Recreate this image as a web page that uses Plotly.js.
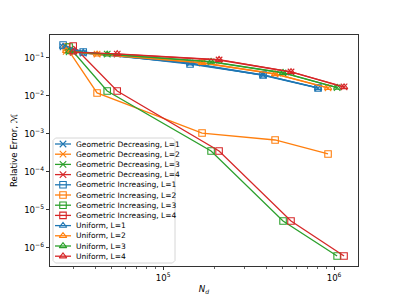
<!DOCTYPE html>
<html><head><meta charset="utf-8">
<script src="https://cdn.plot.ly/plotly-3.0.1.min.js"></script>
<style>html,body{margin:0;padding:0;background:#fff}#plot{width:399px;height:299px}</style>
</head><body><div id="plot"></div>
<script>
// N_d per level count L
const N_L1 = [26000, 34100, 143800, 384500, 806000];
const N_L2 = [27100, 41100, 169000, 452000, 922000];
const N_L3 = [28200, 47100, 190800, 503000, 1042000];
const N_L4 = [29800, 53900, 212500, 560000, 1144000];

const geoDec_L1 = [0.195, 0.135, 0.0738, 0.0357, 0.0163];
const geoDec_L2 = [0.150, 0.127, 0.0738, 0.0379, 0.0163];
const geoDec_L3 = [0.145, 0.127, 0.0785, 0.0403, 0.0165];
const geoDec_L4 = [0.140, 0.127, 0.0886, 0.0428, 0.0173];

const geoInc_L1 = [0.220, 0.144, 0.0695, 0.0357, 0.0163];
const geoInc_L2 = [0.195, 0.0120, 0.00106, 0.000695, 0.000298];
const geoInc_L3 = [0.195, 0.01355, 0.000357, 0.00000514, 0.000000616];
const geoInc_L4 = [0.207, 0.01355, 0.000357, 0.00000514, 0.000000616];

const uni_L1 = [0.200, 0.140, 0.0720, 0.0350, 0.0162];
const uni_L2 = [0.155, 0.125, 0.0750, 0.0380, 0.0164];
const uni_L3 = [0.148, 0.125, 0.0800, 0.0410, 0.0166];
const uni_L4 = [0.142, 0.128, 0.0900, 0.0430, 0.0172];

const seriesNames = [
  'Geometric Decreasing, L=1','Geometric Decreasing, L=2','Geometric Decreasing, L=3','Geometric Decreasing, L=4',
  'Geometric Increasing, L=1','Geometric Increasing, L=2','Geometric Increasing, L=3','Geometric Increasing, L=4',
  'Uniform, L=1','Uniform, L=2','Uniform, L=3','Uniform, L=4'
];
const xTickVals = [1e5, 1e6];
const xTickText = ['10<sup>5</sup>', '10<sup>6</sup>'];
const xMinorVals = [3e4,4e4,5e4,6e4,7e4,8e4,9e4,2e5,3e5,4e5,5e5,6e5,7e5,8e5,9e5];
const yTickVals = [1e-6,1e-5,1e-4,1e-3,1e-2,1e-1];
const yTickText = ['10<sup>−6</sup>','10<sup>−5</sup>','10<sup>−4</sup>','10<sup>−3</sup>','10<sup>−2</sup>','10<sup>−1</sup>'];

const colors = ['#1f77b4','#ff7f0e','#2ca02c','#d62728'];
const Ns = [N_L1, N_L2, N_L3, N_L4];
const groups = [
  {vals:[geoDec_L1,geoDec_L2,geoDec_L3,geoDec_L4], sym:'x-thin-open'},
  {vals:[geoInc_L1,geoInc_L2,geoInc_L3,geoInc_L4], sym:'square-open'},
  {vals:[uni_L1,uni_L2,uni_L3,uni_L4], sym:'triangle-up-open'}
];

const traces = [];
const legendItems = [];
groups.forEach((g, gi) => {
  g.vals.forEach((v, li) => {
    const c = colors[li];
    traces.push({
      x: Ns[li], y: v, type: 'scatter', mode: 'lines+markers',
      name: seriesNames[gi*4+li],
      line: {color: c, width: 1.3},
      marker: {symbol: g.sym, size: 6.5, color: c, line: {color: c, width: 1.1}},
      hoverinfo: 'skip', showlegend: false, xaxis: 'x', yaxis: 'y'
    });
    legendItems.push({name: seriesNames[gi*4+li], color: c, sym: g.sym});
  });
});

// Custom legend drawn on an overlay axis in pixel-like units
const bx0 = 53, bx1 = 175, by0 = 138, by1 = 263, r = 2.5;
const boxX = [bx0+r, bx1-r, bx1, bx1, bx1-r, bx0+r, bx0, bx0, bx0+r];
const boxY = [by0, by0, by0+r, by1-r, by1, by1, by1-r, by0+r, by0];
traces.push({x: boxX, y: boxY, xaxis:'x2', yaxis:'y2', type:'scatter', mode:'lines',
  fill:'toself', fillcolor:'rgba(255,255,255,0.8)', line:{color:'#cccccc', width:0.8},
  hoverinfo:'skip', showlegend:false});
const annotations = [];
legendItems.forEach((it, i) => {
  const yy = 144 + i*10.2;
  traces.push({x:[55,71], y:[yy,yy], xaxis:'x2', yaxis:'y2', type:'scatter', mode:'lines',
    line:{color:it.color, width:1.3}, hoverinfo:'skip', showlegend:false});
  traces.push({x:[63], y:[yy], xaxis:'x2', yaxis:'y2', type:'scatter', mode:'markers',
    marker:{symbol:it.sym, size:6.5, color:it.color, line:{color:it.color, width:1.1}},
    hoverinfo:'skip', showlegend:false});
  annotations.push({x:75, y:yy, xref:'x2', yref:'y2', text:it.name, showarrow:false,
    xanchor:'left', yanchor:'middle', font:{family:'DejaVu Sans', size:7.5, color:'#000'}, borderpad:0});
});

const layout = {
  width: 399, height: 299,
  margin: {l: 50, r: 41, t: 35, b: 33},
  paper_bgcolor: '#fff', plot_bgcolor: '#fff',
  showlegend: false,
  font: {family: 'DejaVu Sans', size: 8.6, color: '#000'},
  xaxis: {
    type: 'log', range: [Math.log10(21800), 6.14],
    tickmode: 'array', tickvals: xTickVals, ticktext: xTickText,
    ticks: 'outside', ticklen: 3.5, tickwidth: 0.8, tickcolor: '#000',
    minor: {tickmode:'array', tickvals: xMinorVals, ticks:'outside', ticklen: 2, tickwidth: 0.6, tickcolor:'#000', showgrid:false},
    showgrid: false, zeroline: false,
    showline: true, linecolor: '#000', linewidth: 0.8, mirror: true,
    title: {text: '<i>N</i><sub><i>d</i></sub>', font: {size: 8.6}, standoff: 4},
    tickfont: {size: 8.6}
  },
  yaxis: {
    type: 'log', range: [-6.474, -0.395],
    tickmode: 'array', tickvals: yTickVals, ticktext: yTickText,
    ticks: 'outside', ticklen: 3.5, tickwidth: 0.8, tickcolor: '#000',
    showgrid: false, zeroline: false,
    showline: true, linecolor: '#000', linewidth: 0.8, mirror: true,
    title: {text: 'Relative Error, ℳ', font: {size: 8.6}, standoff: 5},
    tickfont: {size: 8.6}
  },
  xaxis2: {overlaying: 'x', anchor: 'y2', range: [50, 358], visible: false, fixedrange: true},
  yaxis2: {overlaying: 'y', anchor: 'x2', range: [266, 35], visible: false, fixedrange: true},
  annotations: annotations
};

Plotly.newPlot('plot', traces, layout, {staticPlot: true, displayModeBar: false});
</script></body></html>
